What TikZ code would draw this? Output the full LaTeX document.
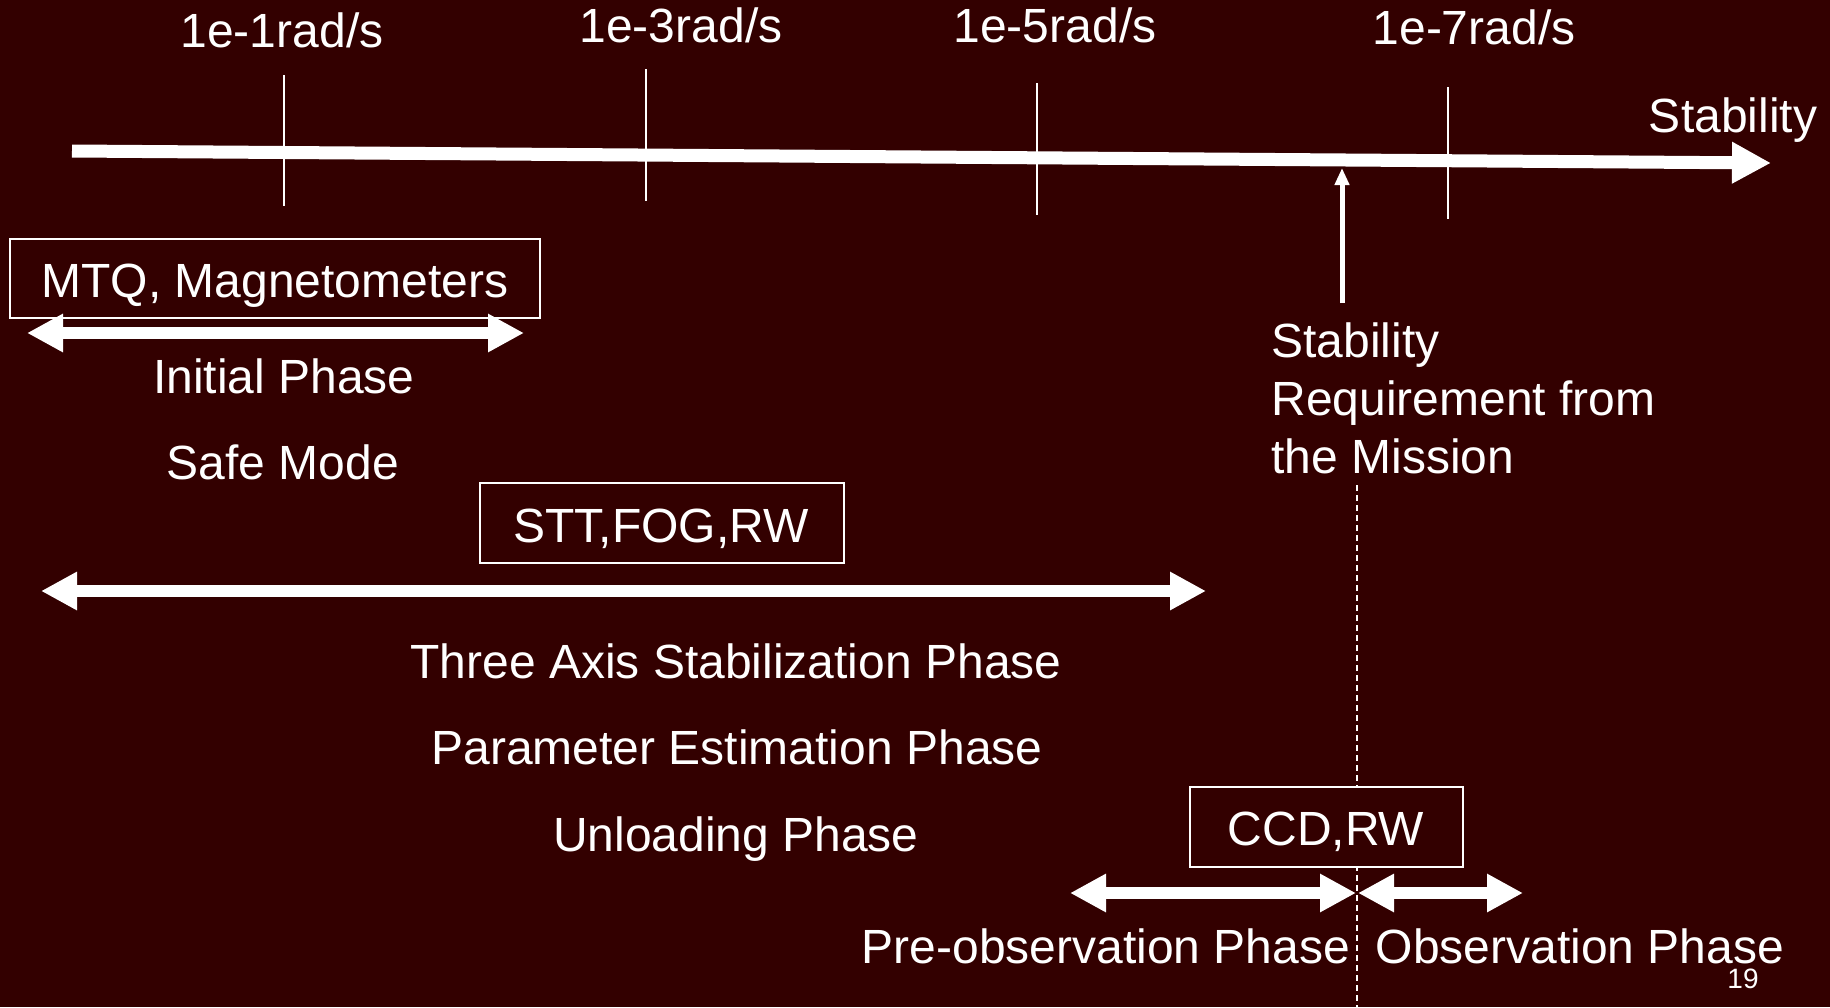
\documentclass[tikz,border=0pt]{standalone}
\usepackage{fontspec}
\setmainfont{Liberation Sans}
\usetikzlibrary{arrows.meta}
\definecolor{bg}{RGB}{51,0,0}
\begin{document}
\begin{tikzpicture}[x=0.5pt,y=-0.5pt,
  lbl/.style={text=white,font=\fontsize{24}{29}\selectfont,inner sep=0pt,anchor=base},
  boxed/.style={draw=white,line width=1pt,fill=bg,inner sep=0pt,rectangle},
  tick/.style={draw=white,line width=0.8pt},
  phasearrow/.style={draw=white,line width=6pt,{Triangle[length=18pt,width=18pt]}-{Triangle[length=18pt,width=18pt]}},
  axisarrow/.style={draw=white,line width=6.5pt,-{Triangle[length=19.5pt,width=19.5pt]}},
  reqarrow/.style={draw=white,line width=2.5pt,-{Triangle[length=8.5pt,width=7pt]}},
  divider/.style={draw=white,line width=1pt,dash pattern=on 3pt off 2pt}]
\fill[bg] (0,0) rectangle (1830,1007);
\useasboundingbox (0,0) rectangle (1830,1007);

% axis and ticks
\coordinate (axL) at (72,151);
\coordinate (axR) at (1771,163);
\coordinate (t1a) at (284,75); \coordinate (t1b) at (284,206);
\coordinate (t3a) at (646,69); \coordinate (t3b) at (646,201);
\coordinate (t5a) at (1037,83); \coordinate (t5b) at (1037,215);
\coordinate (t7a) at (1448,87); \coordinate (t7b) at (1448,219);
\draw[tick] (t1a) -- (t1b);
\draw[tick] (t3a) -- (t3b);
\draw[tick] (t5a) -- (t5b);
\draw[tick] (t7a) -- (t7b);
\draw[axisarrow] (axL) -- (axR);

\node[lbl] (r1) at (282,47) {1e-1rad/s};
\node[lbl] (r3) at (681,42) {1e-3rad/s};
\node[lbl] (r5) at (1055,42) {1e-5rad/s};
\node[lbl] (r7) at (1474,44) {1e-7rad/s};
\node[lbl] (stab) at (1733,132) {Stability};

% requirement
\coordinate (reqB) at (1342,303);
\coordinate (reqT) at (1342,168);
\draw[reqarrow] (reqB) -- (reqT);
\node[lbl,anchor=base west,align=left] (req) at (1271,473) {Stability\\Requirement from\\the Mission};

% dashed divider
\coordinate (dA) at (1357,485);
\coordinate (dB) at (1357,1007);
\draw[divider] (dA) -- (dB);

% initial phase
\node[boxed,minimum width=265pt,minimum height=39.5pt] (mtqbox) at (275,278.5) {};
\node[lbl] (mtq) at (275,297) {MTQ, Magnetometers};
\coordinate (ipL) at (27,333);
\coordinate (ipR) at (524,333);
\draw[phasearrow] (ipL) -- (ipR);
\node[lbl] (init) at (284,393) {Initial Phase};
\node[lbl] (safe) at (283,479) {Safe Mode};

% three axis
\node[boxed,minimum width=182pt,minimum height=40pt] (sttbox) at (662,523) {};
\node[lbl] (stt) at (661,542) {STT,FOG,RW};
\coordinate (taL) at (41,591);
\coordinate (taR) at (1206,591);
\draw[phasearrow] (taL) -- (taR);
\node[lbl] (three) at (736,678) {Three Axis Stabilization Phase};
\node[lbl] (param) at (737,764) {Parameter Estimation Phase};
\node[lbl] (unload) at (736,851) {Unloading Phase};

% observation
\node[boxed,minimum width=136.5pt,minimum height=40pt] (ccdbox) at (1326.5,827) {};
\node[lbl] (ccd) at (1326,845) {CCD,RW};
\coordinate (poL) at (1070,893);
\coordinate (poR) at (1356,893);
\coordinate (obL) at (1358,893);
\coordinate (obR) at (1523,893);
\draw[phasearrow] (poL) -- (poR);
\draw[phasearrow] (obL) -- (obR);
\node[lbl] (preobs) at (1106,963) {Pre-observation Phase};
\node[lbl] (obs) at (1580,963) {Observation Phase};

\node[text=white,font=\fontsize{14}{16}\selectfont,inner sep=0pt,anchor=base] (pg) at (1743,988) {19};
\end{tikzpicture}
\end{document}
